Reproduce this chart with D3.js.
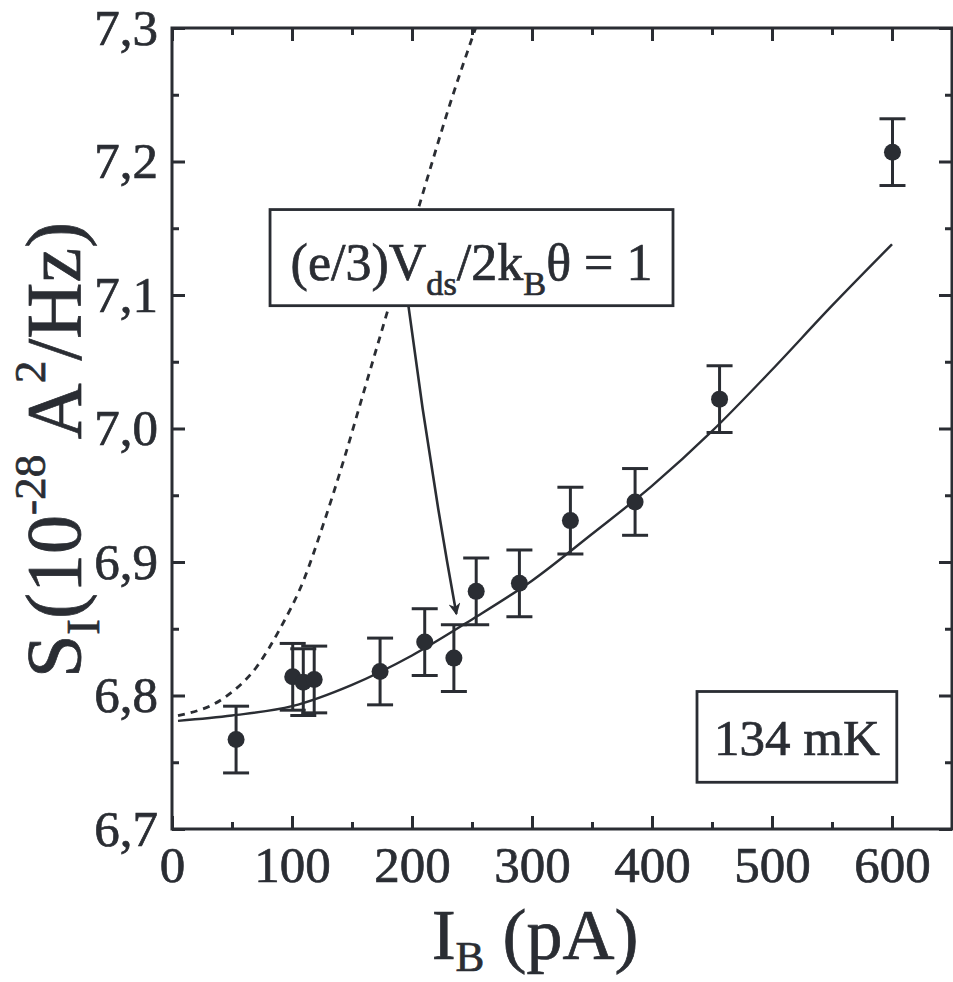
<!DOCTYPE html>
<html>
<head>
<meta charset="utf-8">
<script src="https://cdn.jsdelivr.net/npm/d3@7"></script>
<style>
  html, body { margin: 0; padding: 0; background: #ffffff; }
  svg { display: block; }
  text { font-family: "Liberation Serif", "Times New Roman", serif; fill: #2a2d33; stroke: #2a2d33; stroke-width: 0.7px; }
</style>
</head>
<body>
<svg id="chart" width="953" height="982"></svg>
<script>
// ---------- data ----------
// measured points: bias current I_B (pA) and noise S_I (1e-28 A^2/Hz)
const currents = [53.4, 100.6, 109.4, 118.5, 173.4, 210.6, 234.9, 253.5, 289.5, 332, 385.9, 456.3, 600.4];
const noise    = [6.767, 6.814, 6.810, 6.812, 6.818, 6.840, 6.828, 6.878, 6.884, 6.931, 6.945, 7.022, 7.207];
const errors   = [0.025, 0.025, 0.025, 0.025, 0.025, 0.025, 0.025, 0.025, 0.025, 0.025, 0.025, 0.025, 0.025];

// solid fit curve
const fitCurrent = [5, 50, 100, 150, 200, 250, 300, 350, 400, 450, 500, 550, 600];
const fitNoise   = [6.781, 6.785, 6.792, 6.808, 6.830, 6.857, 6.886, 6.921, 6.957, 6.998, 7.044, 7.092, 7.138];

// dashed curve
const dashCurrent = [5, 43, 71, 90, 110, 126, 143, 160, 178, 207, 232, 253];
const dashNoise   = [6.785, 6.798, 6.822, 6.850, 6.887, 6.928, 6.976, 7.028, 7.083, 7.170, 7.244, 7.300];

// axis ticks
const xMajorTicks = [0, 100, 200, 300, 400, 500, 600];
const xMinorTicks = [50, 150, 250, 350, 450, 550, 650];
const yMajorTicks = [6.7, 6.8, 6.9, 7.0, 7.1, 7.2, 7.3];
const yMinorTicks = [6.75, 6.85, 6.95, 7.05, 7.15, 7.25];

const xDomain = [0, 650];
const yDomain = [6.7, 7.3];

// ---------- layout ----------
const W = 953, H = 982;
const M = { left: 172, right: 952, top: 28, bottom: 829 };
const ink = "#2a2d33";
const FS = 51;

const svg = d3.select("#chart");
svg.append("rect").attr("width", W).attr("height", H).attr("fill", "#ffffff");

const x = d3.scaleLinear().domain(xDomain).range([M.left, M.right]);
const y = d3.scaleLinear().domain(yDomain).range([M.bottom, M.top]);

const fmt = d => d3.format(".1f")(d).replace(".", ",");

function styleAxis(g) {
  g.select(".domain").remove();
  g.selectAll(".tick line").attr("stroke", ink).attr("stroke-width", 3);
  g.selectAll(".tick text").attr("font-size", FS).attr("fill", ink)
    .attr("font-family", "'Liberation Serif', 'Times New Roman', serif");
}

// bottom axis
svg.append("g").attr("transform", `translate(0,${M.bottom})`)
  .call(d3.axisBottom(x).tickValues(xMinorTicks).tickSize(-7).tickFormat(""))
  .call(styleAxis);
svg.append("g").attr("transform", `translate(0,${M.bottom})`)
  .call(d3.axisBottom(x).tickValues(xMajorTicks).tickSize(-13).tickPadding(17).tickFormat(d3.format("d")))
  .call(styleAxis);
// top axis
svg.append("g").attr("transform", `translate(0,${M.top})`)
  .call(d3.axisTop(x).tickValues(xMinorTicks).tickSize(-7).tickFormat(""))
  .call(styleAxis);
svg.append("g").attr("transform", `translate(0,${M.top})`)
  .call(d3.axisTop(x).tickValues(xMajorTicks).tickSize(-13).tickFormat(""))
  .call(styleAxis);
// left axis
svg.append("g").attr("transform", `translate(${M.left},0)`)
  .call(d3.axisLeft(y).tickValues(yMinorTicks).tickSize(-7).tickFormat(""))
  .call(styleAxis);
svg.append("g").attr("transform", `translate(${M.left},0)`)
  .call(d3.axisLeft(y).tickValues(yMajorTicks).tickSize(-13).tickPadding(14).tickFormat(fmt))
  .call(styleAxis);
// right axis
svg.append("g").attr("transform", `translate(${M.right},0)`)
  .call(d3.axisRight(y).tickValues(yMinorTicks).tickSize(-7).tickFormat(""))
  .call(styleAxis);
svg.append("g").attr("transform", `translate(${M.right},0)`)
  .call(d3.axisRight(y).tickValues(yMajorTicks).tickSize(-13).tickFormat(""))
  .call(styleAxis);

// frame
svg.append("rect")
  .attr("x", M.left).attr("y", M.top)
  .attr("width", M.right - M.left).attr("height", M.bottom - M.top)
  .attr("fill", "none").attr("stroke", ink).attr("stroke-width", 3);

// clip
svg.append("clipPath").attr("id", "plotclip").append("rect")
  .attr("x", M.left).attr("y", M.top)
  .attr("width", M.right - M.left).attr("height", M.bottom - M.top);

const plot = svg.append("g").attr("clip-path", "url(#plotclip)");

// dashed curve
const dashData = dashCurrent.map((c, i) => [c, dashNoise[i]]);
plot.append("path").datum(dashData)
  .attr("fill", "none").attr("stroke", ink).attr("stroke-width", 2.8)
  .attr("stroke-dasharray", "7,6")
  .attr("d", d3.line().x(d => x(d[0])).y(d => y(d[1])).curve(d3.curveMonotoneX));

// solid fit curve
const fitData = fitCurrent.map((c, i) => [c, fitNoise[i]]);
plot.append("path").datum(fitData)
  .attr("fill", "none").attr("stroke", ink).attr("stroke-width", 2.4)
  .attr("d", d3.line().x(d => x(d[0])).y(d => y(d[1])).curve(d3.curveMonotoneX));

// error bars + points
const pts = currents.map((c, i) => ({ c, v: noise[i], e: errors[i] }));
const capW = 13;
const eb = plot.append("g").attr("stroke", ink).attr("stroke-width", 3);
eb.selectAll("line.v").data(pts).join("line").attr("class", "v")
  .attr("x1", d => x(d.c)).attr("x2", d => x(d.c))
  .attr("y1", d => y(d.v - d.e)).attr("y2", d => y(d.v + d.e));
eb.selectAll("line.t").data(pts).join("line").attr("class", "t")
  .attr("x1", d => x(d.c) - capW).attr("x2", d => x(d.c) + capW)
  .attr("y1", d => y(d.v + d.e)).attr("y2", d => y(d.v + d.e));
eb.selectAll("line.b").data(pts).join("line").attr("class", "b")
  .attr("x1", d => x(d.c) - capW).attr("x2", d => x(d.c) + capW)
  .attr("y1", d => y(d.v - d.e)).attr("y2", d => y(d.v - d.e));
plot.selectAll("circle.pt").data(pts).join("circle").attr("class", "pt")
  .attr("cx", d => x(d.c)).attr("cy", d => y(d.v)).attr("r", 8.5).attr("fill", ink);

// rich text helper (sub/superscripts via dy)
function rich(sel, segs, size) {
  let cur = 0;
  segs.forEach(s => {
    const sh = s.shift || 0;
    const fs = s.scale ? size * s.scale : size;
    sel.append("tspan").attr("font-size", fs).attr("dy", ((cur - sh) * size).toFixed(2)).text(s.t);
    cur = sh;
  });
}

// annotation box with arrow
const annBox = { x0: 81.7, x1: 417.5, yTop: 7.164, yBot: 7.092 };
const arrowFrom = [197, 7.092];
const arrowTo = [237, 6.861];
const defs = svg.append("defs");
defs.append("marker").attr("id", "arrowhead")
  .attr("viewBox", "0 0 10 10").attr("refX", 9).attr("refY", 5)
  .attr("markerWidth", 18).attr("markerHeight", 12).attr("markerUnits", "userSpaceOnUse")
  .attr("orient", "auto")
  .append("path").attr("d", "M0,0 L10,5 L0,10 L3,5 Z").attr("fill", ink);

const ax0 = x(arrowFrom[0]), ay0 = y(arrowFrom[1]);
const ax1 = x(arrowTo[0]), ay1 = y(arrowTo[1]);
svg.append("path")
  .attr("d", `M${ax0},${ay0} Q${(ax0 + ax1) / 2 - 4},${(ay0 + ay1) / 2} ${ax1},${ay1}`)
  .attr("fill", "none").attr("stroke", ink).attr("stroke-width", 2.6)
  .attr("marker-end", "url(#arrowhead)");

svg.append("rect")
  .attr("x", x(annBox.x0)).attr("y", y(annBox.yTop))
  .attr("width", x(annBox.x1) - x(annBox.x0)).attr("height", y(annBox.yBot) - y(annBox.yTop))
  .attr("fill", "#ffffff").attr("stroke", ink).attr("stroke-width", 2.8);
const annText = svg.append("text")
  .attr("x", (x(annBox.x0) + x(annBox.x1)) / 2).attr("y", y(annBox.yTop) + 70)
  .attr("text-anchor", "middle").attr("font-size", 52);
rich(annText, [
  { t: "(e/3)V" }, { t: "ds", shift: -0.3, scale: 0.66 }, { t: "/2k" },
  { t: "B", shift: -0.3, scale: 0.66 }, { t: "θ = 1" }
], 52);

// temperature box
const tBox = { x0: 437.5, x1: 604, yTop: 6.803, yBot: 6.735 };
svg.append("rect")
  .attr("x", x(tBox.x0)).attr("y", y(tBox.yTop))
  .attr("width", x(tBox.x1) - x(tBox.x0)).attr("height", y(tBox.yBot) - y(tBox.yTop))
  .attr("fill", "#ffffff").attr("stroke", ink).attr("stroke-width", 2.8);
svg.append("text")
  .attr("x", (x(tBox.x0) + x(tBox.x1)) / 2).attr("y", y(tBox.yTop) + 64)
  .attr("text-anchor", "middle").attr("font-size", 51).text("134 mK");

// axis titles
const xt = svg.append("text").attr("x", 535).attr("y", 959)
  .attr("text-anchor", "middle").attr("font-size", 72);
rich(xt, [{ t: "I" }, { t: "B", shift: -0.17, scale: 0.6 }, { t: " (pA)" }], 72);

const yt = svg.append("text").attr("transform", "translate(80,450) rotate(-90)")
  .attr("text-anchor", "middle").attr("font-size", 78);
rich(yt, [
  { t: "S" }, { t: "I", shift: -0.24, scale: 0.6 }, { t: "(10" },
  { t: "-28", shift: 0.45, scale: 0.58 }, { t: " A" }, { t: "2", shift: 0.45, scale: 0.58 },
  { t: "/Hz)" }
], 78);
</script>
</body>
</html>
